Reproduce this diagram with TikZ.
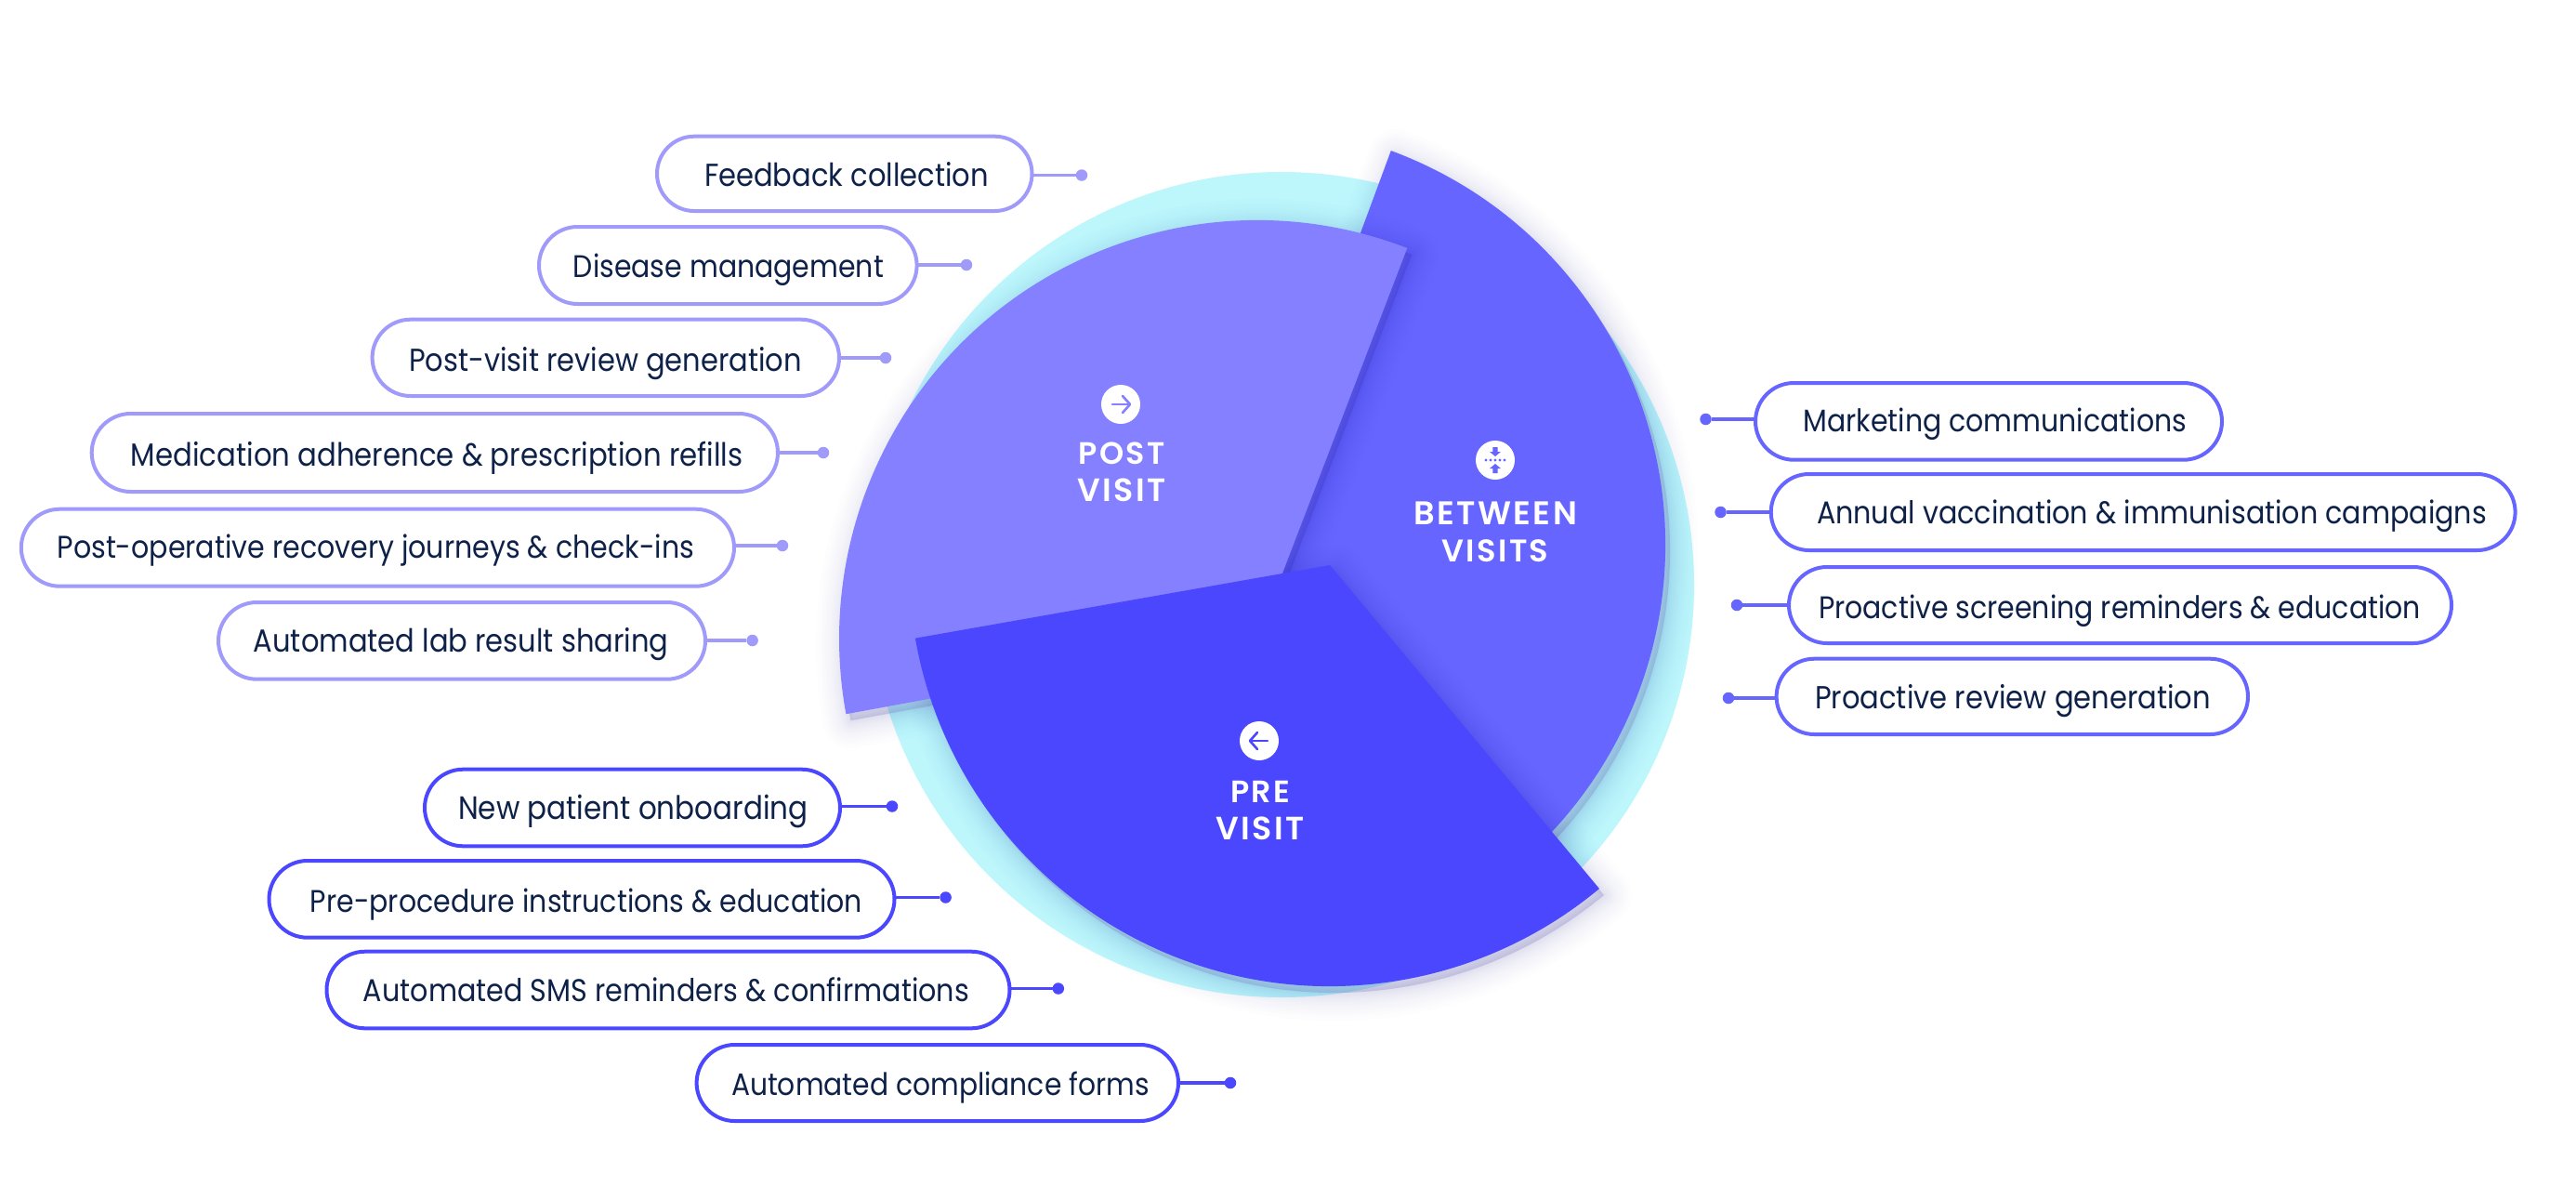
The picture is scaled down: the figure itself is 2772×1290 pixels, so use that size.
\documentclass[tikz,border=0pt]{standalone}
\usepackage{fontspec}
\usepackage{graphicx}
\usetikzlibrary{shapes.misc}
\newfontfamily\lbl{Poppins}
\newfontfamily\hd[LetterSpace=7]{Poppins SemiBold}
\definecolor{cyanbg}{HTML}{BDF7FC}
\definecolor{postc}{HTML}{8480FF}
\definecolor{betc}{HTML}{6665FF}
\definecolor{prec}{HTML}{4A47FF}
\definecolor{postl}{HTML}{A09BFB}
\definecolor{navy}{HTML}{0E2148}
\definecolor{shad}{HTML}{20208A}
\tikzset{
  x=1pt,y=-1pt,
  pillbox/.style={rounded rectangle,draw,line width=4pt,fill=white,inner sep=0pt,outer sep=0pt},
  pilltext/.style={anchor=base,inner sep=0pt,outer sep=0pt,text=navy,yshift=-1.5pt},
  enddot/.style={circle,inner sep=0pt,outer sep=0pt,minimum size=12.5pt},
  sect/.style={align=center,inner sep=0pt,outer sep=0pt,text=white,font=\hd\fontsize{35}{40}\selectfont},
  icon/.style={circle,fill=white,inner sep=0pt,outer sep=0pt,minimum size=42pt},
  arrowline/.style={line width=2.6pt,line cap=round,line join=round}
}
\newcommand{\softshadow}[1]{%
  \begin{scope}[shift={(5,7)}]
    \fill[shad,opacity=.14] #1;
    \foreach \wd in {3,5,7,9,12,15,18,22,26,30,35,40,46,52,60}
      \draw[shad,opacity=.0095,line width=\wd pt,line join=round] #1;
  \end{scope}}
\newcommand{\betpath}{(1340,586) -- ++(69.7:452pt) arc[start angle=69.7,end angle=-52,radius=452pt] -- cycle}
\newcommand{\postpath}{(1353,687) -- ++(69:450pt) arc[start angle=69,end angle=190.4,radius=450pt] -- cycle}
\newcommand{\prepath}{(1431,608) -- ++(190:453pt) arc[start angle=190,end angle=309.8,radius=453pt] -- cycle}
\begin{document}
\begin{tikzpicture}
\useasboundingbox (0,0) rectangle (2772,1290);
\fill[white] (0,0) rectangle (2772,1290);
% disc and sectors
\node[circle,fill=cyanbg,minimum size=888pt,inner sep=0pt] (disc) at (1379,629) {};
\softshadow{\betpath}
\fill[betc] \betpath;
\softshadow{\prepath}
\softshadow{\postpath}
\fill[postc] \postpath;
\fill[prec] \prepath;
% pills: id/x1/x2/ytop/ybot/dotx/doty/colour/tx1/tx2/baseline/text
\foreach \id/\xa/\xb/\ya/\yb/\dx/\dy/\col/\ta/\tb/\ty/\txt in {
 fb/705/1112.5/144.7/229/1164/188.5/postl/758/1064/198.8/{Feedback collection},
 dm/578/988.6/242/329/1040/285/postl/617/951/297.2/{Disease management},
 pv/398.6/905/341.7/428/953/385/postl/440/863/397.8/{Post-visit review generation},
 ma/96.7/839/443/531/886/487/postl/141/799.5/499.8/{Medication adherence \& prescription refills},
 po/20.8/792/545.7/632.7/842/587/postl/61.7/747/599.2/{Post-operative recovery journeys \& check-ins},
 al/233/761/646/732.7/809.6/689/postl/272.8/719.5/699.5/{Automated lab result sharing},
 np/455/906/825.7/912.3/960/867.5/prec/493/869.5/879.5/{New patient onboarding},
 pp/287.5/964.5/924/1010.7/1017.6/965.5/prec/334/928/979.5/{Pre-procedure instructions \& education},
 sm/349.5/1088.5/1021.7/1108.3/1138.8/1063.5/prec/391/1043/1075.5/{Automated SMS reminders \& confirmations},
 cf/747.6/1270/1122/1208/1324/1165/prec/787/1236.6/1177.2/{Automated compliance forms}}
{
  \pgfmathsetmacro{\mx}{(\xa+\xb)/2}
  \pgfmathsetmacro{\my}{(\ya+\yb)/2}
  \pgfmathsetmacro{\mw}{\xb-\xa-4}
  \pgfmathsetmacro{\mh}{\yb-\ya-4}
  \pgfmathsetmacro{\tx}{(\ta+\tb)/2}
  \pgfmathsetmacro{\tw}{\tb-\ta}
  \node[pillbox,draw=\col,minimum width=\mw pt,minimum height=\mh pt] (p\id) at (\mx,\my) {};
  \node[pilltext] (t\id) at (\tx,\ty) {\scalebox{1}[1.12]{\resizebox{\tw pt}{!}{\lbl\fontsize{30}{36}\selectfont \txt}}};
  \node[enddot,fill=\col] (d\id) at (\dx,\dy) {};
  \draw[\col,line width=3.5pt] (p\id.east |- d\id) -- (d\id);
}
\foreach \id/\xa/\xb/\ya/\yb/\dx/\dy/\ta/\tb/\ty/\txt in {
 mk/1887/2393/410/496.7/1835.5/451/1940.5/2353/463.2/{Marketing communications},
 an/1903.7/2708.6/508/594/1851.5/551/1955/2676/561.5/{Annual vaccination \& immunisation campaigns},
 sc/1923/2640/608/694/1869/651/1957/2605/663.8/{Proactive screening reminders \& education},
 rv/1909.6/2421/706.7/792/1860/751/1953/2379/761.2/{Proactive review generation}}
{
  \pgfmathsetmacro{\mx}{(\xa+\xb)/2}
  \pgfmathsetmacro{\my}{(\ya+\yb)/2}
  \pgfmathsetmacro{\mw}{\xb-\xa-4}
  \pgfmathsetmacro{\mh}{\yb-\ya-4}
  \pgfmathsetmacro{\tx}{(\ta+\tb)/2}
  \pgfmathsetmacro{\tw}{\tb-\ta}
  \node[pillbox,draw=betc,minimum width=\mw pt,minimum height=\mh pt] (p\id) at (\mx,\my) {};
  \node[pilltext] (t\id) at (\tx,\ty) {\scalebox{1}[1.12]{\resizebox{\tw pt}{!}{\lbl\fontsize{30}{36}\selectfont \txt}}};
  \node[enddot,fill=betc] (d\id) at (\dx,\dy) {};
  \draw[betc,line width=3.5pt] (p\id.west |- d\id) -- (d\id);
}
% section labels
\node[sect] (postlab) at (1207,507.5) {\resizebox{93pt}{!}{POST}\\\resizebox{95pt}{!}{VISIT}};
\node[sect] (betlab) at (1609,572.5) {\resizebox{176pt}{!}{BETWEEN}\\\resizebox{115pt}{!}{VISITS}};
\node[sect] (prelab) at (1356,872) {\resizebox{64pt}{!}{PRE}\\\resizebox{95pt}{!}{VISIT}};
% icons
\node[icon] (posti) at (1206,435) {};
\node[icon] (beti) at (1609,495) {};
\node[icon] (prei) at (1355,797) {};
\draw[postc,arrowline] ([xshift=-9pt]posti.center) -- ([xshift=10pt]posti.center);
\draw[postc,arrowline] ([shift={(2,-9)}]posti.center) -- ([xshift=10pt]posti.center) -- ([shift={(2,9)}]posti.center);
\draw[prec,arrowline] ([xshift=9pt]prei.center) -- ([xshift=-10pt]prei.center);
\draw[prec,arrowline] ([shift={(-2,-9)}]prei.center) -- ([xshift=-10pt]prei.center) -- ([shift={(-2,9)}]prei.center);
\foreach \k in {-10,-5,0,5,10}
  \fill[betc] ([xshift=\k pt]beti.center) circle[radius=1.6pt];
\fill[betc] ([shift={(0,-4)}]beti.center) -- ([shift={(-6,-9)}]beti.center) -- ([shift={(-2.6,-9)}]beti.center) -- ([shift={(-2.6,-14)}]beti.center) -- ([shift={(2.6,-14)}]beti.center) -- ([shift={(2.6,-9)}]beti.center) -- ([shift={(6,-9)}]beti.center) -- cycle;
\fill[betc] ([shift={(0,4)}]beti.center) -- ([shift={(-6,9)}]beti.center) -- ([shift={(-2.6,9)}]beti.center) -- ([shift={(-2.6,14)}]beti.center) -- ([shift={(2.6,14)}]beti.center) -- ([shift={(2.6,9)}]beti.center) -- ([shift={(6,9)}]beti.center) -- cycle;
\end{tikzpicture}
\end{document}
